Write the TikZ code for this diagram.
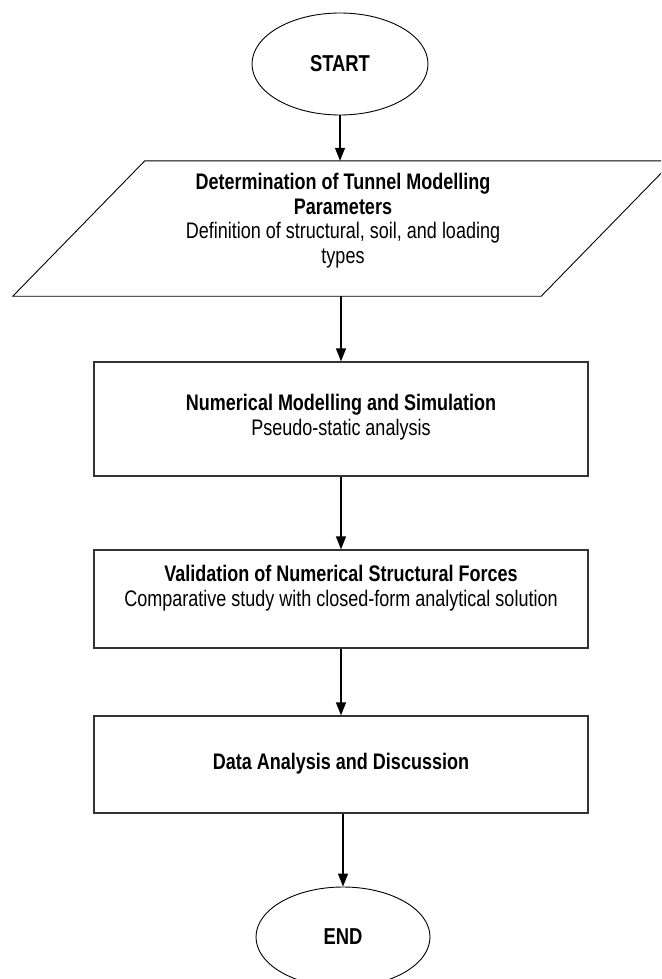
\documentclass[tikz,border=0pt]{standalone}
\usepackage{fontspec}
\setmainfont{Liberation Sans}[FakeStretch=0.80]
\usetikzlibrary{arrows.meta,shapes.geometric}
\begin{document}
\begin{tikzpicture}[x=1pt,y=-1pt,
  txt/.style={align=center,font=\fontsize{22.5}{24.5}\selectfont,inner sep=0pt},
  term/.style={ellipse,draw=black,line width=0.9pt,inner sep=0pt,font=\fontsize{23}{26}\selectfont\bfseries},
  procbox/.style={rectangle,draw=black!80,line width=1.2pt,minimum width=494pt,inner sep=0pt},
  paraframe/.style={rectangle,inner sep=0pt,minimum width=528pt,minimum height=135pt},
  flow/.style={line width=1.3pt,-{Triangle[length=13pt,width=10pt]}}]
\path[use as bounding box] (0,0) rectangle (661,979);
\clip (0,0) rectangle (661,979);

\node[term,minimum width=176pt,minimum height=102pt] (start) at (340,64) {START};

\node[paraframe] (para) at (343,228.5) {};
\draw[line width=0.9pt] ([xshift=-66pt]para.south west) -- ([xshift=66pt]para.north west)
   -- ([xshift=66pt]para.north east) -- ([xshift=-66pt]para.south east) -- cycle;
\node[txt] (paratext) at ([yshift=8pt]para.center) {\textbf{Determination of Tunnel Modelling}\\\textbf{Parameters}\\Definition of structural, soil, and loading\\types};

\node[procbox,minimum height=114pt] (b1) at (341,419) {};
\node[txt] (b1t) at ([yshift=2pt]b1.center) {\textbf{Numerical Modelling and Simulation}\\Pseudo-static analysis};

\node[procbox,minimum height=98pt] (b2) at (341,599) {};
\node[txt] (b2t) at ([yshift=11pt]b2.center) {\textbf{Validation of Numerical Structural Forces}\\Comparative study with closed-form analytical solution};

\node[procbox,minimum height=97pt] (b3) at (341,764.5) {};
\node[txt] (b3t) at ([yshift=1pt]b3.center) {\textbf{Data Analysis and Discussion}};

\node[term,minimum width=174pt,minimum height=100pt] (end) at (343,937) {END};

\draw[flow] (start.south) -- (para.north -| start.south);
\draw[flow] (para.south) ++(-2pt,0) coordinate (ps) -- (ps |- b1.north);
\draw[flow] (b1.south) -- (b2.north);
\draw[flow] (b2.south) -- (b3.north);
\draw[flow] (b3.south) ++(2pt,0) coordinate (bs) -- (end.north);
\end{tikzpicture}
\end{document}
